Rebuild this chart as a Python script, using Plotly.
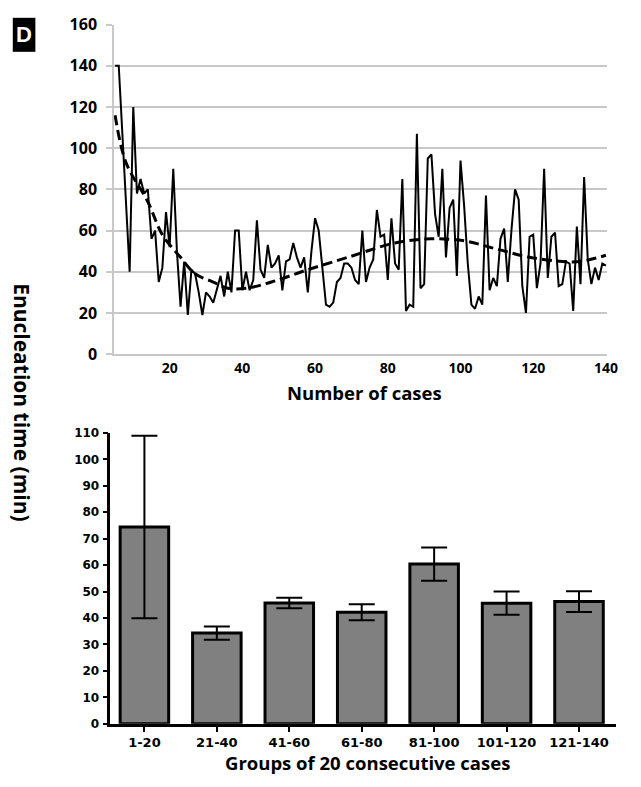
import plotly.graph_objects as go

# ---- Top panel: enucleation time per case ----
case_numbers = list(range(5, 141))
enucleation_time = [
    140, 140, 107, 73, 40, 120, 78, 85, 78, 80,      # 5-14
    56, 60, 35, 42, 69, 52, 90, 50, 23, 45,          # 15-24
    19, 41, 39, 30, 19, 30, 28, 25, 31, 38,          # 25-34
    28, 40, 30, 60, 60, 31, 40, 31, 36, 65,          # 35-44
    41, 37, 53, 42, 44, 48, 31, 45, 46, 54,          # 45-54
    47, 42, 47, 30, 50, 66, 60, 42, 24, 23,          # 55-64
    25, 35, 37, 44, 44, 42, 36, 34, 60, 35,          # 65-74
    42, 46, 70, 57, 58, 36, 66, 44, 41, 85,          # 75-84
    21, 24, 23, 107, 32, 34, 95, 97, 68, 57,         # 85-94
    90, 47, 71, 75, 38, 94, 72, 44, 24, 22,          # 95-104
    28, 24, 77, 31, 37, 33, 56, 61, 35, 60,          # 105-114
    80, 75, 33, 20, 57, 58, 32, 44, 90, 37,          # 115-124
    57, 59, 33, 34, 45, 44, 21, 62, 34, 86,          # 125-134
    46, 34, 42, 36, 44, 43,                          # 135-140
]
trend_cases = [5, 8, 14, 18, 23, 27, 32, 36, 41, 48, 58, 69, 82, 92, 101, 110, 119, 128, 133, 140]
trend_values = [116, 93, 74, 58, 47, 39, 35, 32, 32, 35, 41, 47, 54, 56, 55, 51, 47, 45, 45, 48]
top_xticks = [20, 40, 60, 80, 100, 120, 140]

# ---- Bottom panel: groups of 20 consecutive cases ----
groups = ["1-20", "21-40", "41-60", "61-80", "81-100", "101-120", "121-140"]
group_means = [74.4, 34.3, 45.7, 42.2, 60.4, 45.6, 46.2]
group_errors = [34.5, 2.5, 2.0, 3.0, 6.3, 4.4, 3.9]

W, H = 641, 787

def fx(px):
    return px / W

def fy(py):
    return 1 - py / H

fig = go.Figure()

fig.add_trace(go.Scatter(
    x=case_numbers, y=enucleation_time, mode="lines",
    line=dict(color="black", width=2), xaxis="x", yaxis="y", showlegend=False,
))
fig.add_trace(go.Scatter(
    x=trend_cases, y=trend_values, mode="lines",
    line=dict(color="black", width=3, dash="10px,5px", shape="spline", smoothing=1.0),
    xaxis="x", yaxis="y", showlegend=False,
))
fig.add_trace(go.Bar(
    x=groups, y=group_means,
    marker=dict(color="#808080", line=dict(color="black", width=3)),
    width=0.67,
    error_y=dict(type="data", array=group_errors, visible=True, color="black",
                 thickness=2, width=13),
    xaxis="x2", yaxis="y2", showlegend=False,
))

grey = "#c8c8c8"

fig.update_layout(
    width=W, height=H,
    margin=dict(l=0, r=0, t=0, b=0),
    paper_bgcolor="white", plot_bgcolor="white",
    xaxis=dict(
        domain=[fx(116), fx(618)], range=[4.7, 140.4],
        tickvals=top_xticks, showgrid=False, zeroline=False,
        showline=True, linecolor=grey, linewidth=1.5, ticks="",
        tickfont=dict(family="Open Sans", size=14, color="black", weight="bold"),
        ticklabelstandoff=0,
    ),
    yaxis=dict(
        domain=[fy(353), fy(14)], range=[0, 160], dtick=20,
        showgrid=True, gridcolor=grey, gridwidth=1.5, zeroline=False,
        showline=True, linecolor=grey, linewidth=1.5,
        ticks="outside", ticklen=6, tickcolor=grey, tickwidth=1.5,
        tickfont=dict(family="Open Sans", size=16, color="black", weight="bold"),
        ticklabelstandoff=6,
    ),
    xaxis2=dict(
        domain=[fx(112.3), fx(626.7)], range=[-0.47, 6.51],
        showgrid=False, zeroline=False,
        showline=True, linecolor="black", linewidth=2.5,
        ticks="outside", ticklen=5, tickwidth=2, tickcolor="black",
        tickfont=dict(family="DejaVu Sans", size=13, color="black", weight="bold"),
        ticklabelstandoff=0,
        anchor="y2",
    ),
    yaxis2=dict(
        domain=[fy(733.3), fy(434)], range=[0, 110], dtick=10,
        showgrid=False, zeroline=False,
        showline=True, linecolor="black", linewidth=2.5,
        ticks="outside", ticklen=5, tickwidth=2, tickcolor="black",
        tickfont=dict(family="DejaVu Sans", size=12, color="black", weight="bold"),
        ticklabelstandoff=1,
        anchor="x2",
    ),
    bargap=0.33,
)

fig.add_annotation(
    text="Number of cases", x=fx(371), y=fy(392), xref="paper", yref="paper",
    showarrow=False, xanchor="center", yanchor="middle",
    font=dict(family="Open Sans", size=18.5, color="black", weight="bold"),
)
fig.add_annotation(
    text="Groups of 20 consecutive cases", x=fx(374), y=fy(773), xref="paper", yref="paper",
    showarrow=False, xanchor="center", yanchor="middle",
    font=dict(family="Open Sans", size=18.5, color="black", weight="bold"),
)
fig.add_annotation(
    text="Enucleation time (min)", x=fx(23), y=fy(403), xref="paper", yref="paper",
    showarrow=False, xanchor="center", yanchor="middle", textangle=90,
    font=dict(family="Open Sans", size=21, color="black", weight="bold"),
)
fig.add_shape(
    type="rect", xref="paper", yref="paper",
    x0=fx(13), x1=fx(36), y0=fy(42), y1=fy(7),
    fillcolor="black", line=dict(width=0),
)
fig.add_annotation(
    text="D", x=fx(24.5), y=fy(24.5), xref="paper", yref="paper",
    showarrow=False, xanchor="center", yanchor="middle",
    font=dict(family="Liberation Sans", size=22, color="white", weight="bold"),
)

fig.write_html("out.html")
